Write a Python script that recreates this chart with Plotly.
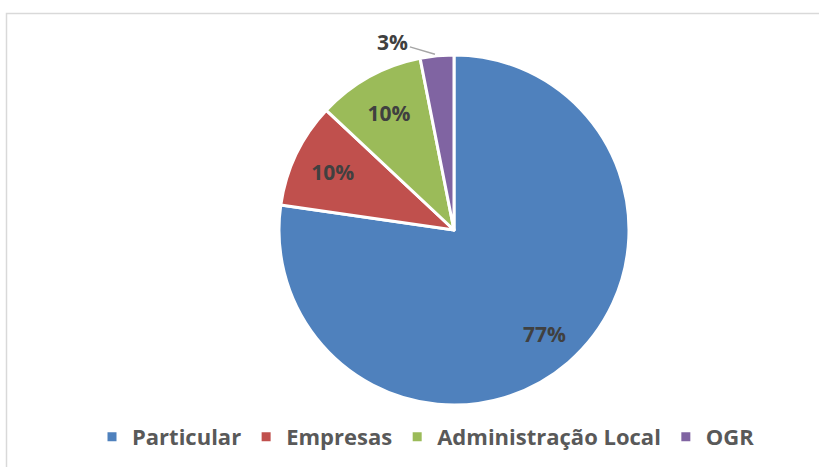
import math

import plotly.graph_objects as go

categorias = ["Particular", "Empresas", "Administração Local", "OGR"]
valores = [77.2, 9.7, 9.9, 3.1]
cores = ["#4F81BD", "#C0504D", "#9BBB59", "#8064A2"]

W, H = 819, 467
cx, cy, r = 454, 230, 175

total = sum(valores)
frac = [v / total for v in valores]
inicio = [sum(frac[:i]) for i in range(len(frac))]
meio = [(a + f / 2) * 2 * math.pi for a, f in zip(inicio, frac)]


def ponto(ang, raio):
    # pixel -> paper coords for a point at angle (clockwise from 12h)
    x = cx + raio * math.sin(ang)
    y = cy - raio * math.cos(ang)
    return x / W, 1 - y / H


fonte_rotulo = dict(family="Open Sans", size=21, color="#404040", weight="bold")

fig = go.Figure()

fig.add_trace(
    go.Pie(
        labels=categorias,
        values=valores,
        sort=False,
        direction="clockwise",
        rotation=0,
        marker=dict(colors=cores, line=dict(color="white", width=3)),
        texttemplate=["", "%{percent:.0%}", "%{percent:.0%}", ""],
        textposition="inside",
        insidetextorientation="horizontal",
        textfont=fonte_rotulo,
        hoverinfo="label+percent",
        domain=dict(
            x=[(cx - r) / W, (cx + r) / W],
            y=[1 - (cy + r) / H, 1 - (cy - r) / H],
        ),
    )
)

# 77% label placed like the original (further out than plotly's default)
x77, y77 = ponto(meio[0], 0.79 * r)
# 3% label outside with a leader line to the slice edge
x3, y3 = ponto(meio[3], r + 1)

anotacoes = [
    dict(
        x=x77,
        y=y77,
        xref="paper",
        yref="paper",
        xanchor="center",
        yanchor="middle",
        text=f"{frac[0]:.0%}",
        showarrow=False,
        font=fonte_rotulo,
    ),
    dict(
        x=x3,
        y=y3,
        xref="paper",
        yref="paper",
        text=f"{frac[3]:.0%}",
        showarrow=True,
        arrowhead=0,
        arrowwidth=1.5,
        arrowcolor="#A6A6A6",
        ax=-44,
        ay=-13,
        standoff=2,
        font=fonte_rotulo,
    ),
]

fig.update_layout(
    width=W,
    height=H,
    margin=dict(l=0, r=0, t=0, b=0),
    paper_bgcolor="white",
    showlegend=True,
    legend=dict(
        orientation="h",
        x=426 / W,
        xanchor="center",
        y=1 - 437 / H,
        yanchor="middle",
        font=dict(family="Open Sans", size=22, color="#595959", weight="bold"),
        itemwidth=30,
        traceorder="normal",
    ),
    annotations=anotacoes,
    shapes=[
        dict(
            type="rect",
            xref="paper",
            yref="paper",
            x0=6.5 / W,
            x1=1.05,
            y0=-0.05,
            y1=1 - 13.5 / H,
            line=dict(color="#D9D9D9", width=1.5),
        )
    ],
)

fig.write_html(
    "out.html",
    config={"displayModeBar": False},
    post_script="document.body.style.margin='0';document.body.style.overflow='hidden';",
)
